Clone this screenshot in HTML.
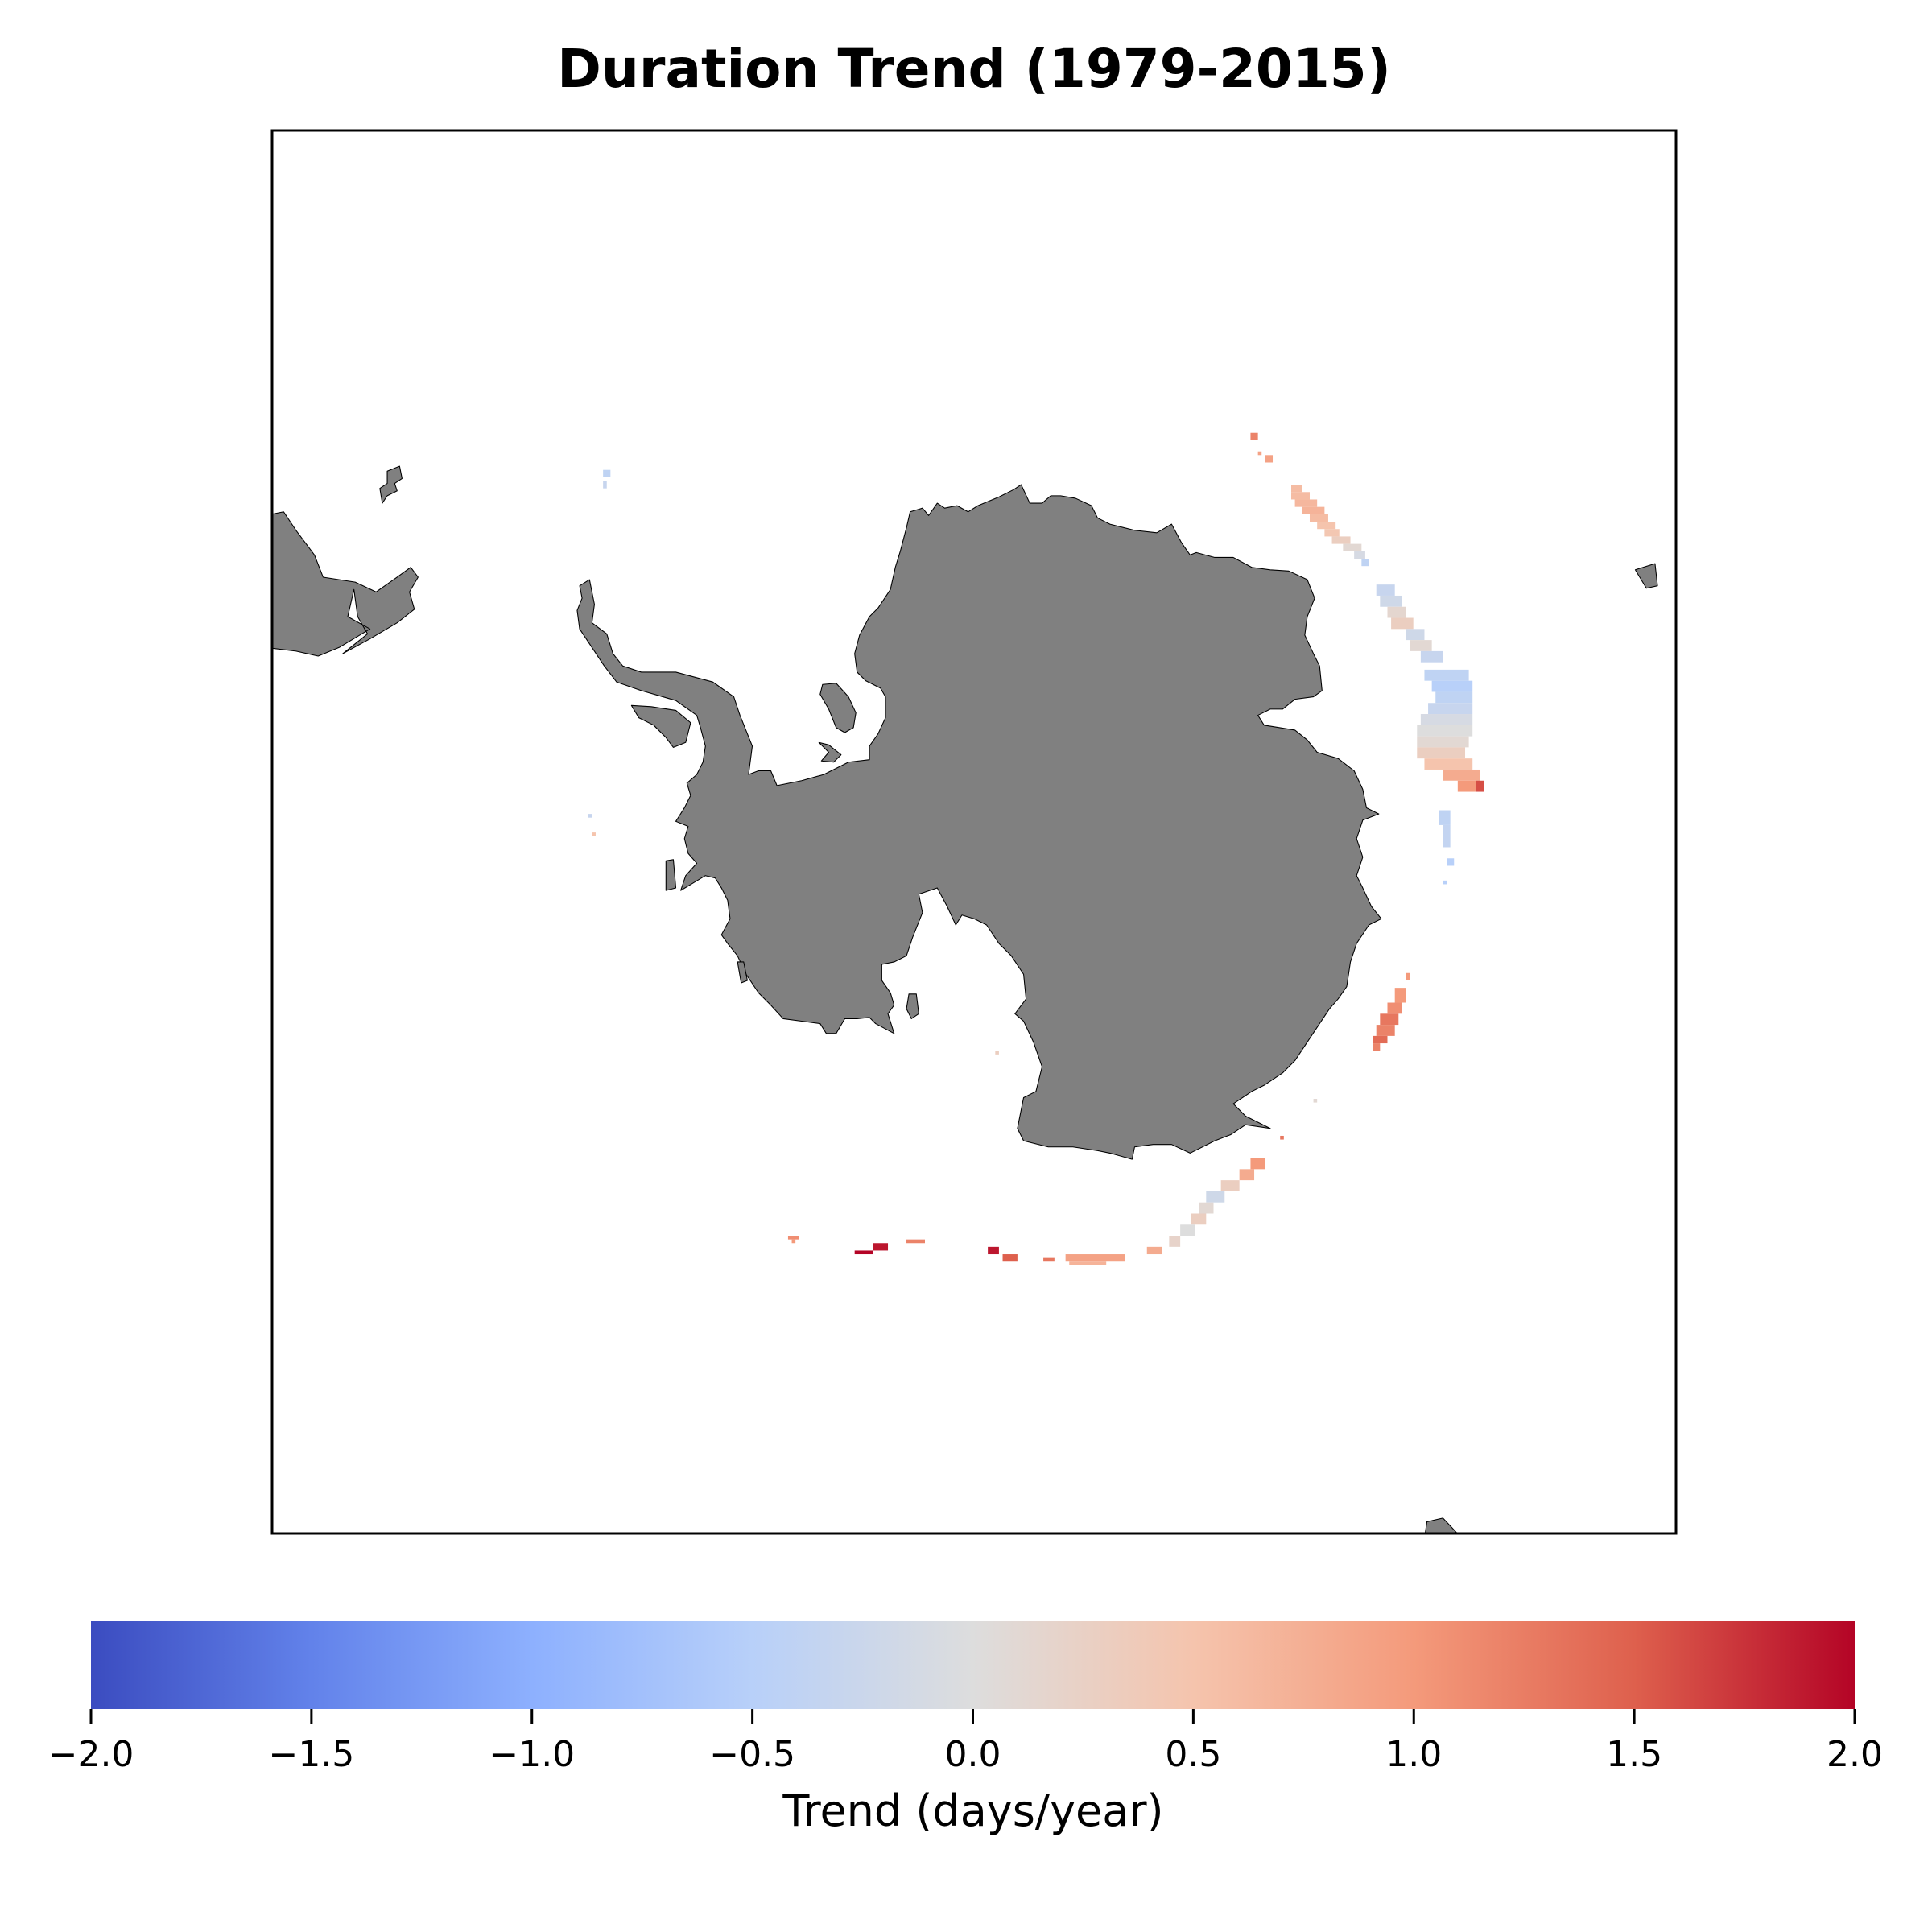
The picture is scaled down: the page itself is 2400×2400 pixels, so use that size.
<!DOCTYPE html>
<html><head><meta charset="utf-8">
<style>
html,body{margin:0;padding:0;background:#fff;}
svg{display:block;}
text{font-family:"DejaVu Sans","Liberation Sans",sans-serif;}
</style></head>
<body>
<svg id="fig" width="2400" height="2400" viewBox="0 0 2400 2400" xmlns="http://www.w3.org/2000/svg">
<rect width="2400" height="2400" fill="#fff"/>
<text x="1210" y="108" font-size="66" font-weight="bold" text-anchor="middle">Duration Trend (1979-2015)</text>
<defs><clipPath id="mapclip"><rect x="338" y="162" width="1744" height="1743"/></clipPath></defs>
<g id="map" clip-path="url(#mapclip)">
 <g transform="scale(1.532)">
  <g fill="#808080" stroke="#000" stroke-width="0.7" stroke-linejoin="round">
   <path d="M478,470 L482,490 L480,505 L492,514 L497,530 L505,540 L520,545 L548,545 L578,553 L595,565 L600,580 L610,605 L607,628 L615,625 L625,625 L630,637 L650,633 L668,628 L688,618 L705,616 L705,605 L712,595 L718,582 L718,565 L714,558 L702,552 L695,545 L693,530 L697,515 L705,500 L712,493 L722,478 L726,460 L730,447 L735,428 L738,415 L748,412 L753,418 L760,408 L766,412 L776,410 L785,415 L793,410 L810,403 L822,397 L828,393 L835,408 L845,408 L852,402 L860,402 L872,404 L885,410 L890,420 L900,425 L920,430 L938,432 L950,425 L958,440 L965,450 L970,448 L985,452 L1000,452 L1015,460 L1030,462 L1045,463 L1060,470 L1066,485 L1060,500 L1058,515 L1065,530 L1070,540 L1072,560 L1065,565 L1050,567 L1040,575 L1030,575 L1020,580 L1025,588 L1050,592 L1060,600 L1068,610 L1085,615 L1098,625 L1105,640 L1108,655 L1118,660 L1105,665 L1100,680 L1105,695 L1100,710 L1105,720 L1112,735 L1120,745 L1110,750 L1100,765 L1095,780 L1092,800 L1085,810 L1078,818 L1070,830 L1060,845 L1050,860 L1040,870 L1025,880 L1015,885 L1000,895 L1010,905 L1020,910 L1030,915 L1010,912 L998,920 L985,925 L965,935 L950,928 L935,928 L920,930 L918,940 L900,935 L890,933 L870,930 L850,930 L830,925 L825,915 L830,890 L840,885 L845,865 L838,845 L830,828 L823,822 L832,810 L830,790 L820,775 L810,765 L800,750 L790,745 L780,742 L775,750 L768,735 L760,720 L745,725 L748,740 L740,760 L735,775 L725,780 L715,782 L715,795 L722,805 L725,815 L720,822 L725,838 L710,830 L705,825 L695,826 L685,826 L678,838 L670,838 L665,830 L650,828 L635,826 L625,815 L615,805 L605,790 L598,775 L590,765 L585,758 L592,745 L590,730 L585,720 L580,712 L572,710 L562,716 L552,722 L556,710 L565,700 L558,692 L555,680 L558,670 L548,666 L555,655 L560,645 L557,635 L565,628 L570,618 L572,605 L568,590 L565,580 L548,568 L520,560 L500,553 L490,540 L480,525 L470,510 L468,495 L472,485 L470,475 Z"/>
   <path d="M512,572 L528,573 L548,576 L560,586 L556,602 L546,606 L540,598 L530,588 L518,582 Z"/>
   <path d="M667,555 L678,554 L688,565 L694,578 L692,590 L685,594 L678,590 L672,575 L665,563 Z"/>
   <path d="M664,602 L672,604 L682,612 L676,618 L666,617 L672,610 Z"/>
   <path d="M540,698 L546,697 L548,720 L540,722 Z"/>
   <path d="M598,780 L603,780 L606,795 L601,797 Z"/>
   <path d="M737,806 L743,806 L745,822 L739,826 L735,818 Z"/>
   <path d="M215,418 L230,415 L240,430 L255,450 L262,468 L288,472 L305,480 L322,468 L333,460 L339,468 L332,480 L336,494 L322,505 L300,518 L278,530 L298,514 L290,500 L287,478 L282,500 L300,510 L275,525 L258,532 L240,528 L215,525 Z"/>
   <path d="M314,382 L324,378 L326,388 L320,392 L322,398 L314,402 L310,408 L308,396 L314,392 Z"/>
   <path d="M1326,462 L1342,457 L1344,475 L1335,477 Z"/>
   <path d="M1155,1248 L1157,1234 L1170,1231 L1186,1248 Z"/>
  </g>
  <g id="cells"></g>
 </g>
</g>
<rect x="338" y="162" width="1744" height="1743" fill="none" stroke="#000" stroke-width="3"/>
<g id="cbar"></g>
<text x="1209" y="2268" font-size="54" text-anchor="middle">Trend (days/year)</text>
</svg>
<script>
// colorbar ticks
const tickVals = [-2, -1.5, -1, -0.5, 0, 0.5, 1, 1.5, 2];
const tickLabels = ["\u22122.0", "\u22121.5", "\u22121.0", "\u22120.5", "0.0", "0.5", "1.0", "1.5", "2.0"];
const vmin = -2, vmax = 2;
// sea-ice trend cells (grid units, 1 unit = 3 map px); values in days/year
const cellCol = [338,340,342,349,349,350,352,354,356,358,360,363,366,368,372,373,375,376,380,381,384,385,387,388,386,384,383,383,383,385,390,394,399,389,390,391,390,380,377,375,373,372,371,371,346,338,335,330,326,324,322,319,316,310,288,289,267,271,282,245,236,231,213,214,163,163,159,160,269,355];
const cellRow = [117,122,123,131,133,135,137,139,141,143,145,147,149,151,158,161,164,167,170,173,176,181,184,187,190,193,196,199,202,205,208,211,211,219,223,232,238,263,267,271,274,277,280,282,307,313,316,319,322,325,328,331,334,337,339,341,337,339,340,335,336,338,334,335,127,130,220,225,284,297];
const cellW = [2,1,2,3,5,6,6,5,5,4,5,5,3,2,5,6,5,6,5,6,6,12,11,10,12,14,15,14,13,13,10,5,2,3,2,2,1,1,3,4,5,5,4,2,1,4,4,5,5,4,4,4,3,4,16,10,3,4,3,5,4,5,3,1,2,1,1,1,1,1];
const cellH = [2,1,2,2,2,2,2,2,2,2,2,2,2,2,3,3,3,3,3,3,3,3,3,3,3,3,3,3,3,3,3,3,3,4,6,2,1,2,4,3,3,3,2,2,1,3,3,3,3,3,3,3,3,2,2,1,2,2,1,1,2,1,1,1,2,2,1,1,1,1];
const cellVal = [1.2,0.9,0.9,0.6,0.6,0.65,0.7,0.6,0.5,0.45,0.3,0.1,-0.1,-0.4,-0.3,-0.2,0.15,0.3,-0.2,0.1,-0.3,-0.4,-0.5,-0.4,-0.3,-0.1,0.0,0.1,0.3,0.5,0.8,1.0,1.6,-0.4,-0.35,-0.5,-0.5,1.0,1.0,1.1,1.3,1.2,1.4,1.2,1.3,1.0,0.8,0.3,-0.2,0.1,0.3,0.0,0.2,0.8,0.9,0.7,1.9,1.5,1.3,1.2,1.9,2.0,1.1,1.0,-0.4,-0.3,-0.3,0.5,0.3,0.1];

const stops = [[59,76,192],[98,130,234],[141,176,254],[184,208,249],[221,221,221],[245,196,173],[244,154,123],[222,96,77],[180,4,38]];
function cmap(v){
  let t = Math.max(0, Math.min(1, (v - vmin) / (vmax - vmin))) * (stops.length - 1);
  let i = Math.min(stops.length - 2, Math.floor(t)), f = t - i;
  const c = stops[i].map((a, k) => Math.round(a + (stops[i + 1][k] - a) * f));
  return `rgb(${c[0]},${c[1]},${c[2]})`;
}
const NS = "http://www.w3.org/2000/svg";
const CELL = 3;
function gx(c){ return c * CELL; }
function gy(r){ return r * CELL; }
const cells = document.getElementById('cells');
for (let i = 0; i < cellCol.length; i++) {
  const r = document.createElementNS(NS, 'rect');
  r.setAttribute('x', gx(cellCol[i]));
  r.setAttribute('y', gy(cellRow[i]));
  r.setAttribute('width', cellW[i] * CELL);
  r.setAttribute('height', cellH[i] * CELL);
  r.setAttribute('fill', cmap(cellVal[i]));
  
  
  cells.appendChild(r);
}
// colorbar
const cbX0 = 113, cbX1 = 2304, cbY0 = 2014, cbY1 = 2123;
function cbx(v){ return cbX0 + (v - vmin) / (vmax - vmin) * (cbX1 - cbX0); }
const cbar = document.getElementById('cbar');
const defs = document.createElementNS(NS, 'defs');
const lg = document.createElementNS(NS, 'linearGradient');
lg.setAttribute('id', 'cw');
for (let k = 0; k < stops.length; k++) {
  const s = document.createElementNS(NS, 'stop');
  s.setAttribute('offset', k / (stops.length - 1));
  s.setAttribute('stop-color', `rgb(${stops[k].join(',')})`);
  lg.appendChild(s);
}
defs.appendChild(lg); cbar.appendChild(defs);
const bar = document.createElementNS(NS, 'rect');
bar.setAttribute('x', cbX0); bar.setAttribute('y', cbY0);
bar.setAttribute('width', cbX1 - cbX0); bar.setAttribute('height', cbY1 - cbY0);
bar.setAttribute('fill', 'url(#cw)');


cbar.appendChild(bar);
for (let i = 0; i < tickVals.length; i++) {
  const x = cbx(tickVals[i]);
  const l = document.createElementNS(NS, 'line');
  l.setAttribute('x1', x); l.setAttribute('x2', x);
  l.setAttribute('y1', cbY1); l.setAttribute('y2', cbY1 + 19);
  l.setAttribute('stroke', '#000'); l.setAttribute('stroke-width', '3');
  
  
  cbar.appendChild(l);
  const t = document.createElementNS(NS, 'text');
  t.setAttribute('x', x); t.setAttribute('y', 2194);
  t.setAttribute('font-size', '44'); t.setAttribute('text-anchor', 'middle');
  t.textContent = tickLabels[i];
  
  
  cbar.appendChild(t);
}
</script>
</body></html>
